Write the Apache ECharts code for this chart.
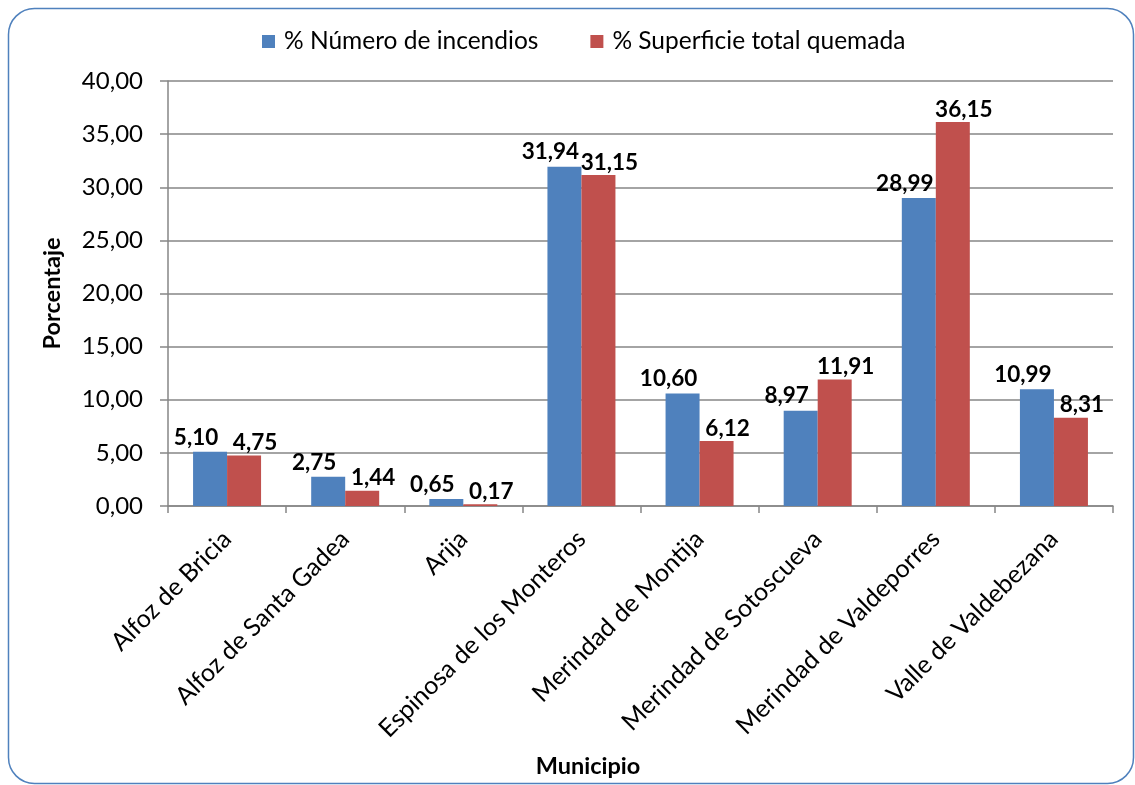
<!DOCTYPE html>
<html>
<head>
<meta charset="utf-8">
<script src="https://cdn.jsdelivr.net/npm/echarts@6/dist/echarts.min.js"></script>
<style>
  html, body { margin: 0; padding: 0; background: #ffffff; }
  #chart { width: 1135px; height: 785px; }
</style>
</head>
<body>
<div id="chart"></div>
<script>
// Municipalities and their share of fires and burned area (%)
const municipios = [
  'Alfoz de Bricia', 'Alfoz de Santa Gadea', 'Arija', 'Espinosa de los Monteros',
  'Merindad de Montija', 'Merindad de Sotoscueva', 'Merindad de Valdeporres', 'Valle de Valdebezana'
];
const numeroIncendios = [5.10, 2.75, 0.65, 31.94, 10.60, 8.97, 28.99, 10.99];
const superficieQuemada = [4.75, 1.44, 0.17, 31.15, 6.12, 11.91, 36.15, 8.31];
const seriesNames = ['% Número de incendios', '% Superficie total quemada'];

const FONT = 'Lato, "Open Sans", sans-serif';
const fmt = v => Number(v).toFixed(2).replace('.', ',');

const chart = echarts.init(document.getElementById('chart'), null, { renderer: 'canvas' });

chart.setOption({
  animation: false,
  backgroundColor: '#ffffff',
  textStyle: { fontFamily: FONT },
  graphic: [{
    type: 'rect',
    shape: { x: 8.5, y: 8.5, width: 1125, height: 775, r: 26 },
    style: { fill: 'none', stroke: '#4F81BD', lineWidth: 1.5 },
    silent: true
  }],
  // x-axis title, centred on the whole chart frame
  title: {
    text: 'Municipio',
    left: 588,
    top: 754,
    textAlign: 'center',
    padding: 0,
    textStyle: { fontFamily: FONT, fontSize: 23.5, fontWeight: 'bold', color: '#000' }
  },
  legend: {
    top: 29,
    left: 262,
    padding: 0,
    itemWidth: 13,
    itemHeight: 13,
    itemGap: 52,
    icon: 'rect',
    textStyle: { fontFamily: FONT, fontSize: 24.5, color: '#000', padding: [0, 0, 0, 4] },
    data: seriesNames
  },
  grid: { left: 168, right: 22, top: 81, bottom: 279, containLabel: false, outerBoundsMode: 'none' },
  xAxis: {
    type: 'category',
    data: municipios,
    axisLine: { lineStyle: { color: '#868686', width: 1.5 } },
    axisTick: { show: true, length: 7, lineStyle: { color: '#868686', width: 1.5 } },
    axisLabel: { interval: 0, rotate: 45, margin: 29, fontFamily: FONT, fontSize: 25, color: '#000' }
  },
  yAxis: {
    type: 'value',
    min: 0,
    max: 40,
    interval: 5,
    name: 'Porcentaje',
    nameLocation: 'middle',
    nameGap: 104,
    nameRotate: 90,
    nameTextStyle: { fontFamily: FONT, fontSize: 23.5, fontWeight: 'bold', color: '#000' },
    axisLine: { show: true, lineStyle: { color: '#868686', width: 1.5 } },
    axisTick: { show: true, length: 8, lineStyle: { color: '#868686', width: 1.5 } },
    splitLine: { lineStyle: { color: '#868686', width: 1.5 } },
    axisLabel: { formatter: fmt, margin: 25, fontFamily: FONT, fontSize: 24, color: '#000' }
  },
  series: [
    {
      name: seriesNames[0],
      type: 'bar',
      data: numeroIncendios,
      barWidth: 34,
      barGap: '0%',
      itemStyle: { color: '#4F81BD' },
      label: {
        show: true, position: 'top', distance: 3, offset: [-14, 0],
        formatter: p => fmt(p.value),
        fontFamily: FONT, fontSize: 22.5, fontWeight: 'bold', color: '#000'
      }
    },
    {
      name: seriesNames[1],
      type: 'bar',
      data: superficieQuemada,
      barWidth: 34,
      itemStyle: { color: '#C0504D' },
      label: {
        show: true, position: 'top', distance: 1, offset: [11, 0],
        formatter: p => fmt(p.value),
        fontFamily: FONT, fontSize: 22.5, fontWeight: 'bold', color: '#000'
      }
    }
  ]
});
</script>
</body>
</html>
